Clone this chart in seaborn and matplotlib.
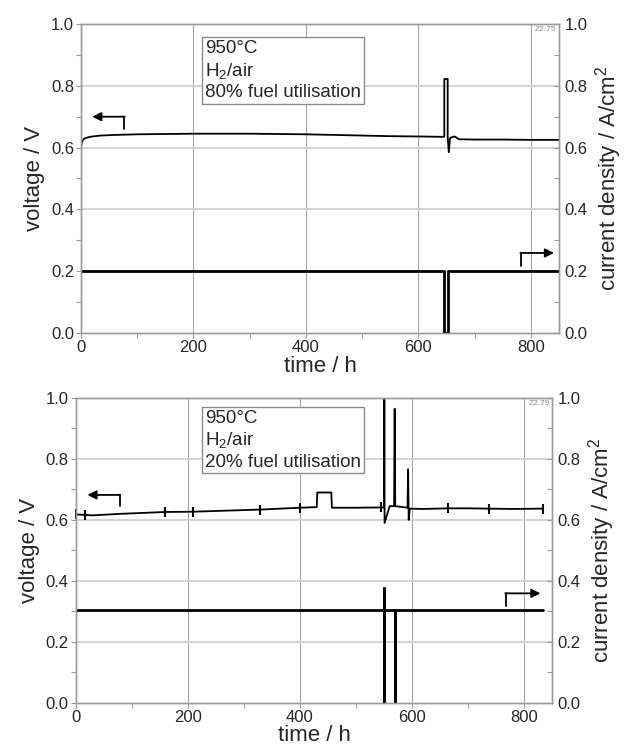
import matplotlib
matplotlib.use("Agg")
import matplotlib.pyplot as plt
import seaborn as sns
import pandas as pd
from matplotlib.ticker import MultipleLocator

# ---------------- data: top panel (80% fuel utilisation) ----------------
t_v_top = [0, 1, 2, 4, 7, 12, 20, 35, 60, 100, 150, 200, 250, 300, 350, 400, 450,
           500, 550, 600, 640, 646, 646, 652, 652, 654, 656, 660, 664, 668, 672,
           700, 750, 800, 850]
v_top = [0.600, 0.612, 0.620, 0.626, 0.630, 0.633, 0.636, 0.639, 0.641, 0.643,
         0.644, 0.645, 0.645, 0.645, 0.644, 0.643, 0.641, 0.639, 0.637, 0.636,
         0.635, 0.635, 0.822, 0.822, 0.635, 0.585, 0.630, 0.634, 0.636, 0.632,
         0.627, 0.626, 0.626, 0.625, 0.625]
t_i_top = [0, 646, 646, 653, 653, 850]
i_top = [0.202, 0.202, 0.0, 0.0, 0.202, 0.202]

# ---------------- data: bottom panel (20% fuel utilisation) -------------
t_v_bot = [0, 10, 30, 80, 160, 210, 330, 400, 430, 431, 456, 457, 500, 548,
           550, 550, 551, 551, 560, 568, 569, 570, 580, 592, 593, 594, 596, 620,
           665, 700, 737, 780, 834]
v_bot = [0.618, 0.617, 0.615, 0.620, 0.626, 0.627, 0.634, 0.640, 0.642, 0.690,
         0.690, 0.640, 0.640, 0.641, 0.641, 1.000, 1.000, 0.590, 0.645, 0.645,
         0.965, 0.645, 0.643, 0.640, 0.766, 0.600, 0.637, 0.636, 0.638, 0.638,
         0.637, 0.636, 0.637]
t_mark_bot = [1, 16, 160, 209, 329, 401, 545, 665, 737, 834]
v_mark_bot = [0.618, 0.617, 0.626, 0.627, 0.634, 0.640, 0.641, 0.638, 0.637, 0.637]
t_i_bot = [0, 550, 550, 550, 550, 569, 569, 569, 834]
i_bot = [0.304, 0.304, 0.378, 0.0, 0.304, 0.304, 0.0, 0.304, 0.304]

panel_notes = ["950°C\nH$_2$/air\n80% fuel utilisation",
               "950°C\nH$_2$/air\n20% fuel utilisation"]
panel_ids = ["Z2.75", "Z2.79"]
y_ticks = [0.0, 0.2, 0.4, 0.6, 0.8, 1.0]
x_ticks = [0, 200, 400, 600, 800]

sns.set_theme(style="ticks")
plt.rcParams["font.family"] = ["Liberation Sans", "DejaVu Sans"]
plt.rcParams["mathtext.fontset"] = "custom"
plt.rcParams["mathtext.rm"] = "Liberation Sans"
plt.rcParams["mathtext.it"] = "Liberation Sans"

fig = plt.figure(figsize=(6.27, 7.5), dpi=100)
positions = [[0.1292, 0.556, 0.7624, 0.412], [0.1207, 0.063, 0.760, 0.4063]]

panels = [
    dict(tv=t_v_top, v=v_top, ti=t_i_top, i=i_top, note=panel_notes[0],
         pid=panel_ids[0], note_xy=(220, 0.948), xpad=1,
         larrow=(77, 20, 0.66, 0.70), rarrow=(782, 841, 0.217, 0.259)),
    dict(tv=t_v_bot, v=v_bot, ti=t_i_bot, i=i_bot, note=panel_notes[1],
         pid=panel_ids[1], note_xy=(231, 0.962), xpad=0,
         larrow=(79, 21, 0.646, 0.682), rarrow=(767, 829, 0.318, 0.359)),
]

spine_col = "#9a9a9a"
for k, (pos, p) in enumerate(zip(positions, panels)):
    ax = fig.add_axes(pos)
    ax2 = ax.twinx()
    dv = pd.DataFrame({"t": p["tv"], "v": p["v"]})
    di = pd.DataFrame({"t": p["ti"], "i": p["i"]})
    sns.lineplot(data=dv, x="t", y="v", ax=ax, color="black", lw=1.3,
                 sort=False, estimator=None)
    sns.lineplot(data=di, x="t", y="i", ax=ax2, color="black", lw=2.0,
                 sort=False, estimator=None)
    if k == 1:
        dm = pd.DataFrame({"t": t_mark_bot, "v": v_mark_bot})
        sns.scatterplot(data=dm, x="t", y="v", ax=ax, marker="|", s=45,
                        color="black", linewidth=1.5, clip_on=False)
    for a in (ax, ax2):
        a.set_xlim(0, 850)
        a.set_ylim(0, 1.0)
        a.set_yticks(y_ticks)
        a.yaxis.set_minor_locator(MultipleLocator(0.1))
        a.set_yticklabels([f"{y:.1f}" for y in y_ticks], fontsize=12)
        for s in a.spines.values():
            s.set_color(spine_col)
            s.set_linewidth(1.0)
    ax.set_xticks(x_ticks)
    ax.set_xticklabels([str(x) for x in x_ticks], fontsize=12)
    ax.xaxis.set_minor_locator(MultipleLocator(100))
    ax.tick_params(axis="both", which="both", direction="out", length=3.5,
                   width=0.8, color=spine_col, pad=1.5)
    ax2.tick_params(axis="y", which="both", direction="in", length=3.5,
                    width=0.8, color=spine_col, pad=4)
    # grid
    for xv in x_ticks[1:]:
        ax.axvline(xv, color="#a0a0a0", lw=0.7, zorder=0)
    for yv in y_ticks[1:-1]:
        ax.axhline(yv, color="#d0d0d0", lw=1.3, zorder=0)
    ax.set_xlabel("time / h", fontsize=16, labelpad=p["xpad"])
    ax.set_ylabel("voltage / V", fontsize=16, labelpad=4)
    ax2.set_ylabel("current density / A/cm$^2$", fontsize=16, labelpad=4)
    # note box
    ax.text(p["note_xy"][0], p["note_xy"][1], p["note"], fontsize=13.5,
            va="top", ha="left", linespacing=1.25,
            bbox=dict(boxstyle="square,pad=0.15", fc="white", ec="#8a8a8a", lw=1.0))
    ax.text(0.995, 0.993, p["pid"], transform=ax.transAxes, fontsize=6,
            color="#888888", ha="right", va="top")
    # bent arrows
    x0, x1, y0, y1 = p["larrow"]
    ax.plot([x0, x0], [y0, y1], color="black", lw=1.3)
    ax.annotate("", xy=(x1, y1), xytext=(x0 + 0.7, y1),
                arrowprops=dict(arrowstyle="-|>", color="black", lw=1.3,
                                mutation_scale=13, shrinkA=0, shrinkB=0))
    x0, x1, y0, y1 = p["rarrow"]
    ax.plot([x0, x0], [y0, y1], color="black", lw=1.3)
    ax.annotate("", xy=(x1, y1), xytext=(x0 - 0.7, y1),
                arrowprops=dict(arrowstyle="-|>", color="black", lw=1.3,
                                mutation_scale=13, shrinkA=0, shrinkB=0))

fig.savefig("out.png", dpi=100)
